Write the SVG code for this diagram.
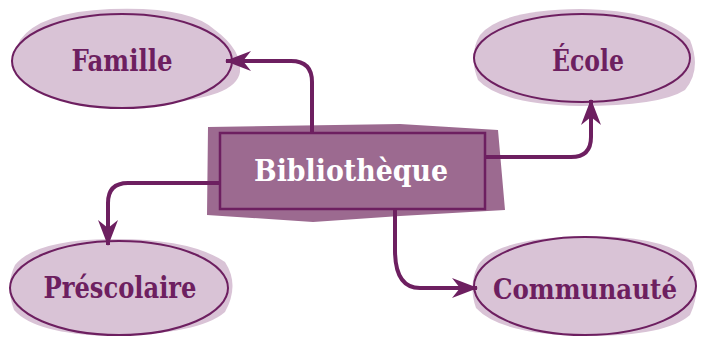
<svg xmlns="http://www.w3.org/2000/svg" width="702" height="337" viewBox="0 0 702 337">
<defs>
<style>
.blob{fill:#d9c3d6;}
.ell{fill:#d9c3d6;stroke:#6d1f60;stroke-width:2;}
.lbl{font-family:"DejaVu Serif","Liberation Serif",serif;font-weight:bold;font-size:29px;fill:#6d1f60;text-anchor:middle;}
.conn{fill:none;stroke:#6d1f60;stroke-width:4;stroke-linecap:butt;}
</style>
<marker id="ah" viewBox="0 0 26 22" refX="25" refY="11" markerWidth="26" markerHeight="22" markerUnits="userSpaceOnUse" orient="auto">
<path d="M0,1 L26,11 L0,21 L8,11 Z" fill="#6d1f60"/>
</marker>
</defs>
<g id="bibliotheque">
<path d="M208,127 L400,124 L498,130 L505,210 L400,216 L313,222 L207,215 Z" fill="#9c6a90"/>
<rect x="220" y="133" width="265" height="76" fill="#9c6a90" stroke="#6d1f60" stroke-width="2.5"/>
<text x="351" y="181" class="lbl" style="fill:#ffffff" textLength="194" lengthAdjust="spacingAndGlyphs">Bibliothèque</text>
</g>
<g id="famille">
<path class="blob" d="M20,40 Q40,12 110,9 Q190,6 215,30 Q242,50 240,72 Q236,98 160,103 Q70,108 30,88 Q8,70 20,40 Z"/>
<ellipse class="ell" cx="122" cy="61" rx="110" ry="47"/>
<text x="122" y="71" class="lbl" textLength="101" lengthAdjust="spacingAndGlyphs">Famille</text>
</g>
<g id="ecole">
<path class="blob" d="M480,35 Q500,10 580,9 Q660,10 690,40 Q702,70 685,90 Q660,106 580,106 Q500,104 478,80 Q468,55 480,35 Z"/>
<ellipse class="ell" cx="582" cy="58" rx="108" ry="44"/>
<text x="588" y="71" class="lbl" textLength="72" lengthAdjust="spacingAndGlyphs">École</text>
</g>
<g id="prescolaire">
<path class="blob" d="M15,265 Q35,240 110,239 Q190,238 225,262 Q240,285 225,312 Q200,334 110,336 Q35,334 14,310 Q5,285 15,265 Z"/>
<ellipse class="ell" cx="119" cy="288" rx="109" ry="47"/>
<text x="120" y="298" class="lbl" textLength="153" lengthAdjust="spacingAndGlyphs">Préscolaire</text>
</g>
<g id="communaute">
<path class="blob" d="M478,265 Q495,238 585,236 Q670,236 692,262 Q702,290 690,315 Q665,337 580,336 Q500,334 476,308 Q468,285 478,265 Z"/>
<ellipse class="ell" cx="585" cy="286" rx="111" ry="49"/>
<text x="585" y="299" class="lbl" style="font-size:28px" textLength="184" lengthAdjust="spacingAndGlyphs">Communauté</text>
</g>
<g id="connectors">
<path class="conn" d="M312,133 V82 Q312,61 291,61 H226" marker-end="url(#ah)"/>
<path class="conn" d="M485,157 H571 Q591,157 591,137 V100" marker-end="url(#ah)"/>
<path class="conn" d="M220,183 H128 Q108,183 108,203 V245" marker-end="url(#ah)"/>
<path class="conn" d="M395,209 V250 Q395,288 420,288 H477" marker-end="url(#ah)"/>
</g>
</svg>
